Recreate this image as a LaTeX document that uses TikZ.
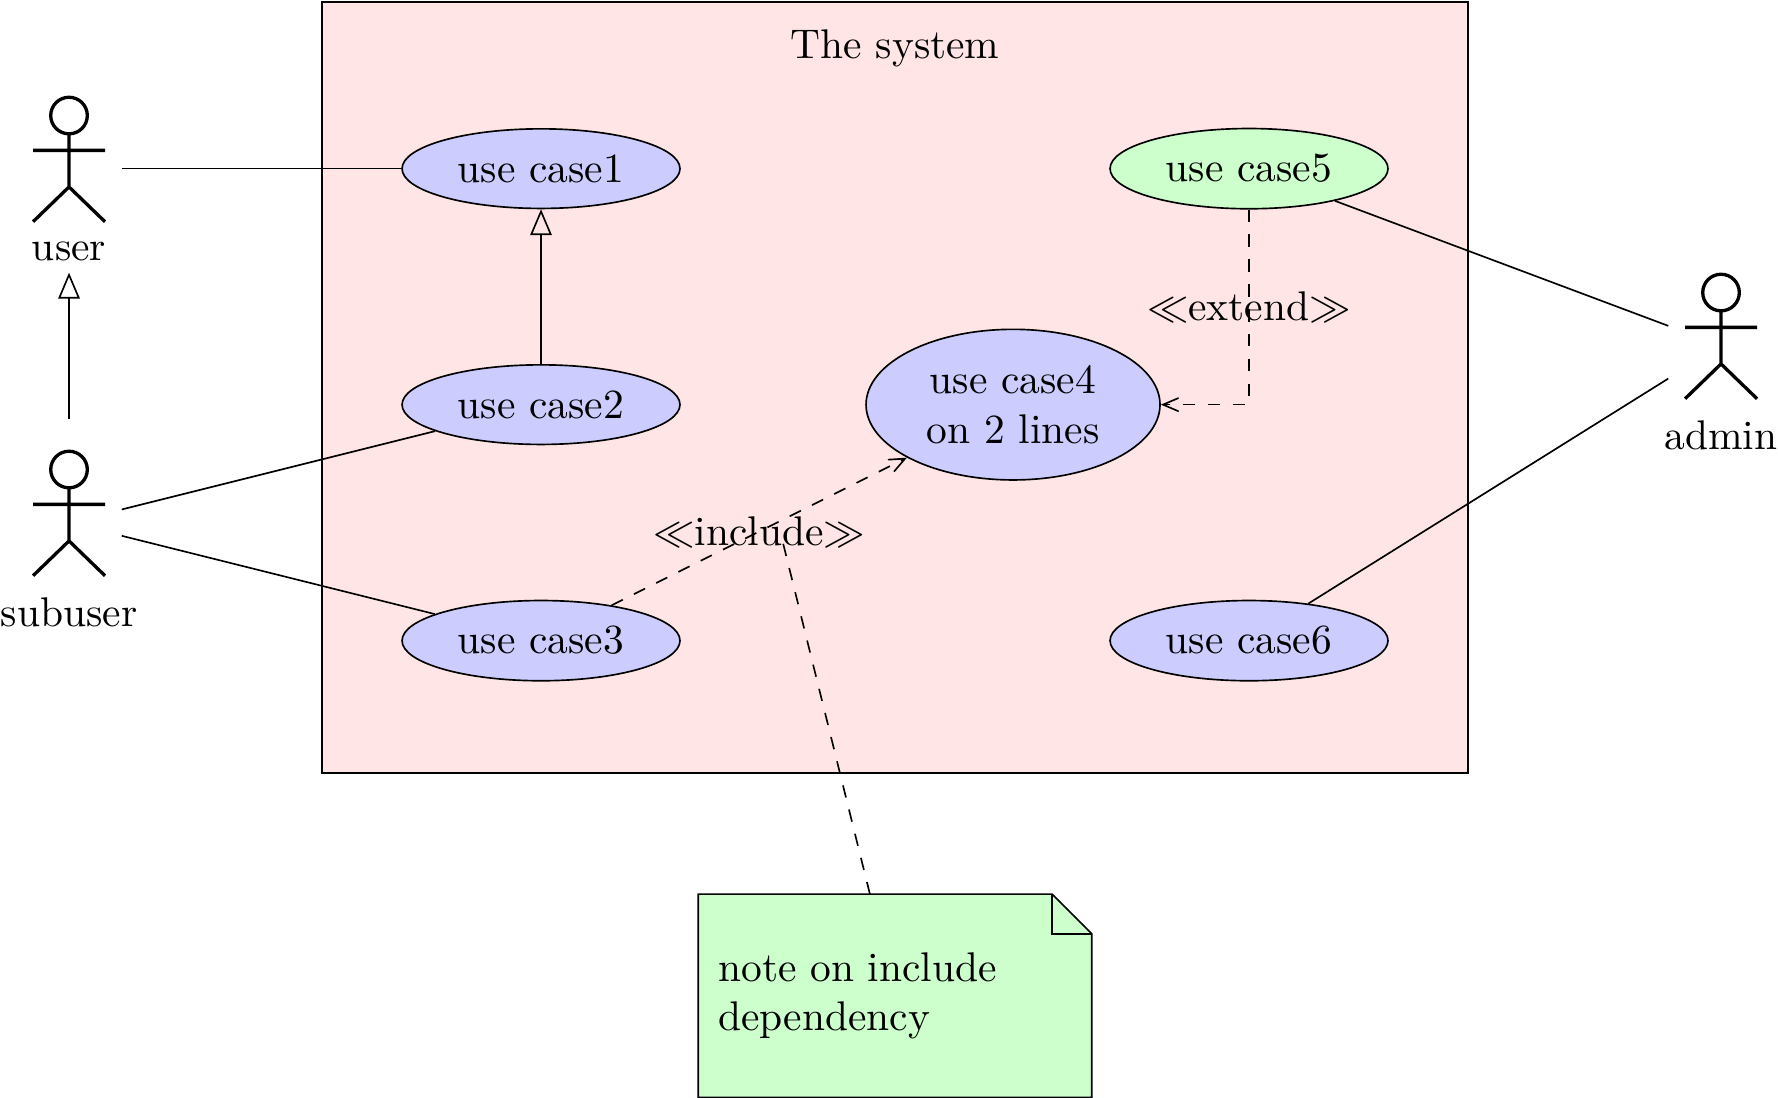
\documentclass[tikz,border=0pt]{standalone}
\usetikzlibrary{shapes.geometric, arrows, backgrounds}
\tikzstyle{usecase} = [ellipse, text centered, align=center, inner xsep=3.65pt, inner ysep=3.4pt, draw=black, fill=blue!20]
\tikzstyle{mainsystem} = [rectangle, minimum width=9.71cm, minimum height=6.53cm, draw=black, fill=red!10]
\tikzstyle{actor} = [rectangle, minimum width=0.88cm, minimum height=1.75cm, inner sep=0pt]
\tikzstyle{actorlabel} = [anchor=north]
\tikzstyle{notebox} = [rectangle, minimum height=1.71cm, inner sep=4.6pt, text width=3.32cm-9.2pt, align=left]
\tikzstyle{inherit} = [->,>=open triangle 45]
\tikzstyle{depend} = [dashed,->,>=angle 45]
\newcommand{\stickman}[1]{\draw [thick, shift={(#1.center)}] (0,0.45) circle (0.155) (0,0.295) -- (0,-0.155) (-0.305,0.155) -- (0.305,0.155) (-0.305,-0.45) -- (0,-0.155) -- (0.305,-0.45);}

\begin{document}
\begin{tikzpicture}[node distance=2cm]
\useasboundingbox (-4.585,-7.875) rectangle (10.483,1.429);

% Nodes
\node (system) [mainsystem] at (3.0,-1.855) {};
\node (title) at (3,1.02) {The system};

\node (case1) [usecase] {use case1};
\node (case2) [usecase, below of=case1] {use case2};
\node (case3) [usecase, below of=case2] {use case3};
\node (case4) [usecase, right of=case2, xshift=2cm, inner xsep=4.2pt] {use case4\\on 2 lines};
\node (case5) [usecase, right of=case1, xshift=4cm, fill=green!20] {use case5};
\node (case6) [usecase, right of=case3, xshift=4cm] {use case6};

\node (user) [actor, left of=case1, xshift=-2cm] {};
\node (subuser) [actor, below of=user, yshift=-1cm] {};
\node (admin) [actor, right of=case5, xshift=2cm, yshift=-1.5cm] {};
\stickman{user}
\stickman{subuser}
\stickman{admin}
\node (userlabel) [actorlabel] at ([yshift=-0.50cm]user.center) {user};
\node (subuserlabel) [actorlabel] at ([yshift=-0.51cm]subuser.center) {subuser};
\node (adminlabel) [actorlabel] at ([yshift=-0.51cm]admin.center) {admin};

\node (note) [notebox, below of=case3, xshift=3cm, yshift=-1.01cm] {note on include\\dependency};
\begin{scope}[on background layer]
\filldraw [draw=black, fill=green!20] (note.north west) -- ([xshift=-0.336cm]note.north east) -- ([yshift=-0.336cm]note.north east) -- (note.south east) -- (note.south west) -- cycle;
\draw ([xshift=-0.336cm]note.north east) |- ([yshift=-0.336cm]note.north east);
\end{scope}
\coordinate (noteend) at (2.05,-3.17);

% Connections
\draw (user) -- (case1);
\draw (subuser) -- (case2);
\draw (subuser) -- (case3);
\draw (admin) -- (case5);
\draw (admin) -- (case6);

\draw [inherit] (subuser) -- (user);
\draw [inherit] (case2) -- (case1);

\draw [depend] (case3) -- (case4) node[midway] {$\ll$include$\gg$};
\draw [depend] (case5) |- (case4) node[pos=0.25] {$\ll$extend$\gg$};
\draw [dashed] (note) -- (noteend);

\end{tikzpicture}
\end{document}
